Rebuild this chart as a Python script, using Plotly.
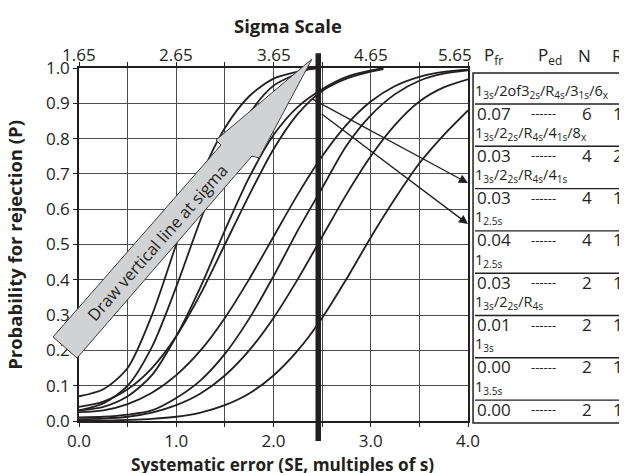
import plotly.graph_objects as go

# ---------------- data ----------------
# power curves (SE in multiples of s, probability of rejection)
se_fast = [0, 0.25, 0.5, 0.75, 1.0, 1.25, 1.5, 1.75, 2.0, 2.25, 2.31, 2.46]
p_6x = [0.07, 0.09, 0.15, 0.30, 0.50, 0.69, 0.83, 0.92, 0.97, 0.99, 0.995, 1.0]
p_8x = [0.03, 0.05, 0.10, 0.21, 0.38, 0.57, 0.74, 0.87, 0.95, 0.985, 0.993, 1.0]

se_mid = [0, 0.25, 0.5, 0.75, 1.0, 1.25, 1.5, 1.75, 2.0, 2.25, 2.5, 2.75, 3.0, 3.13]
p_41s = [0.03, 0.04, 0.07, 0.13, 0.24, 0.38, 0.54, 0.69, 0.81, 0.89, 0.94, 0.975, 0.993, 1.0]
p_25s_n4 = [0.04, 0.055, 0.09, 0.15, 0.24, 0.36, 0.50, 0.64, 0.77, 0.87, 0.935, 0.97, 0.99, 0.997]

se_full = [0, 0.25, 0.5, 0.75, 1.0, 1.25, 1.5, 1.75, 2.0, 2.25, 2.5, 2.75, 3.0, 3.25, 3.5, 3.75, 4.0]
p_25s_n2 = [0.025, 0.030, 0.048, 0.080, 0.130, 0.200, 0.292, 0.402, 0.522, 0.642, 0.750, 0.839, 0.905, 0.949, 0.975, 0.989, 0.995]
p_r4s = [0.010, 0.012, 0.018, 0.030, 0.065, 0.115, 0.19, 0.29, 0.41, 0.54, 0.66, 0.78, 0.866, 0.926, 0.964, 0.984, 0.993]
p_13s = [0.005, 0.007, 0.012, 0.024, 0.045, 0.078, 0.129, 0.200, 0.292, 0.402, 0.522, 0.642, 0.750, 0.839, 0.905, 0.945, 0.968]
p_135s = [0.001, 0.001, 0.003, 0.006, 0.012, 0.024, 0.045, 0.078, 0.129, 0.200, 0.292, 0.402, 0.520, 0.630, 0.730, 0.810, 0.880]

sigma_line = 4.11          # sigma at which the vertical line is drawn
sigma_offset = 1.65        # sigma = SE + 1.65
sigma_ticks = [1.65, 2.65, 3.65, 4.65, 5.65]
sigma_minor = [2.15, 3.15, 4.15, 5.15]
se_ticks = [0, 0.5, 1.0, 1.5, 2.0, 2.5, 3.0, 3.5, 4.0]
se_ticktext = ["0.0", "", "1.0", "", "2.0", "", "3.0", "", "4.0"]

# table on the right
rules = [
    "1<sub>3s</sub>/2of3<sub>2s</sub>/R<sub>4s</sub>/3<sub>1s</sub>/6<sub>x</sub>",
    "1<sub>3s</sub>/2<sub>2s</sub>/R<sub>4s</sub>/4<sub>1s</sub>/8<sub>x</sub>",
    "1<sub>3s</sub>/2<sub>2s</sub>/R<sub>4s</sub>/4<sub>1s</sub>",
    "1<sub>2.5s</sub>",
    "1<sub>2.5s</sub>",
    "1<sub>3s</sub>/2<sub>2s</sub>/R<sub>4s</sub>",
    "1<sub>3s</sub>",
    "1<sub>3.5s</sub>",
]
p_fr = ["0.07", "0.03", "0.03", "0.04", "0.03", "0.01", "0.00", "0.00"]
p_ed = ["------"] * 8
n_ctrl = ["6", "4", "4", "4", "2", "2", "2", "2"]
n_runs = ["1", "2", "1", "1", "1", "1", "1", "1"]

# pointer arrows (tail SE, tail P, head SE, head P)
pointers = [(2.38, 0.915, 4.0, 0.674), (2.48, 0.873, 4.0, 0.558)]

# ---------------- figure ----------------
INK = "#231f20"
FONT = "Open Sans"
fig = go.Figure()

for xs, ys in [(se_fast, p_6x), (se_fast, p_8x), (se_mid, p_41s), (se_mid, p_25s_n4),
               (se_full, p_25s_n2), (se_full, p_r4s), (se_full, p_13s), (se_full, p_135s)]:
    fig.add_trace(go.Scatter(x=xs, y=ys, mode="lines",
                             line=dict(color=INK, width=1.8, shape="spline", smoothing=0.8),
                             showlegend=False, hoverinfo="skip"))

# invisible trace to carry the sigma axis
fig.add_trace(go.Scatter(x=[sigma_ticks[0], sigma_ticks[-1]], y=[0, 0], xaxis="x2",
                         mode="markers", marker=dict(opacity=0), showlegend=False, hoverinfo="skip"))

grid = "#4d4d4d"
fig.update_layout(
    width=627, height=473,
    margin=dict(l=71, r=167, t=60, b=60),
    paper_bgcolor="white", plot_bgcolor="white",
    font=dict(family=FONT, size=17, color=INK),
    xaxis=dict(range=[0, 4], tickvals=se_ticks, ticktext=se_ticktext,
               ticks="outside", ticklen=4, tickcolor=INK,
               showgrid=True, gridcolor=grid, gridwidth=1,
               showline=True, linecolor=INK, linewidth=2, mirror=True,
               zeroline=False, fixedrange=True),
    xaxis2=dict(range=[sigma_ticks[0], sigma_ticks[-1]], overlaying="x", side="top", anchor="y",
                tickvals=sigma_ticks + sigma_minor, showticklabels=False,
                ticks="outside", ticklen=5, tickcolor=INK,
                showgrid=False, showline=False, zeroline=False, fixedrange=True),
    yaxis=dict(range=[0, 1], dtick=0.1, tickformat=".1f",
               ticks="outside", ticklen=4, tickcolor=INK,
               showgrid=True, gridcolor=grid, gridwidth=1,
               showline=True, linecolor=INK, linewidth=1.5, mirror=True,
               zeroline=False, fixedrange=True),
)

shapes = []
annotations = []

# sigma tick labels (the last one is pulled left of its tick, clear of the table header)
for k, s in enumerate(sigma_ticks):
    last = k == len(sigma_ticks) - 1
    annotations.append(dict(text=f"{s:.2f}", x=s, y=1.037, xref="x2", yref="paper",
                            showarrow=False, xanchor="right" if last else "center",
                            xshift=6 if last else 0, yanchor="middle",
                            font=dict(size=17, color=INK, family=FONT)))

# grey instruction arrow (paper coordinates)
arrow_pts = [(-0.0668, 0.2380), (0.3650, 0.7819), (0.3522, 0.7960), (0.5990, 1.0255),
             (0.4627, 0.7450), (0.4447, 0.7507), (-0.0051, 0.1785)]
path = "M " + " L ".join(f"{x},{y}" for x, y in arrow_pts) + " Z"
shapes.append(dict(type="path", path=path, xref="paper", yref="paper",
                   fillcolor="#d1d2d4", line=dict(color="#3a3a3a", width=1), layer="above"))
annotations.append(dict(text="Draw vertical line at sigma", x=0.200, y=0.507,
                        xref="paper", yref="paper", showarrow=False, textangle=-48.5,
                        xanchor="center", yanchor="middle",
                        font=dict(size=16.5, color=INK, family=FONT)))

# thick vertical line at sigma
shapes.append(dict(type="line", xref="x", yref="paper",
                   x0=sigma_line - sigma_offset, x1=sigma_line - sigma_offset,
                   y0=-0.057, y1=1.042, line=dict(color=INK, width=5.5), layer="above"))

# pointer arrows
for tx, ty, hx, hy in pointers:
    annotations.append(dict(x=hx, y=hy, ax=tx, ay=ty, xref="x", yref="y", axref="x", ayref="y",
                            text="", showarrow=True, arrowhead=2, arrowsize=1.4,
                            arrowwidth=1.3, arrowcolor=INK))

# table box
shapes.append(dict(type="rect", xref="paper", yref="paper", x0=1.013, x1=1.45, y0=-0.006, y1=0.986,
                   line=dict(color=INK, width=1.5), fillcolor="rgba(0,0,0,0)"))

# header
for txt, xc in [("P<sub>fr</sub>", 1.066), ("P<sub>ed</sub>", 1.210), ("N", 1.300), ("R", 1.384)]:
    annotations.append(dict(text=txt, x=xc, y=1.035, xref="paper", yref="paper",
                            showarrow=False, xanchor="center", yanchor="middle",
                            font=dict(size=17, color=INK, family=FONT)))

row_h = 42.3 / 353.0
for i in range(len(rules)):
    y_rule = (421 - 91) / 353.0 - i * row_h
    y_sep = (421 - 104) / 353.0 - i * row_h
    y_val = (421 - 113) / 353.0 - i * row_h
    annotations.append(dict(text=rules[i], x=1.013, y=y_rule, xref="paper", yref="paper",
                            showarrow=False, xanchor="left", yanchor="middle",
                            font=dict(size=14.5, color=INK, family=FONT)))
    shapes.append(dict(type="line", xref="paper", yref="paper", x0=1.018, x1=1.45,
                       y0=y_sep, y1=y_sep, line=dict(color=INK, width=1.4)))
    annotations.append(dict(text=p_fr[i], x=1.018, y=y_val, xref="paper", yref="paper",
                            showarrow=False, xanchor="left", yanchor="middle",
                            font=dict(size=17, color=INK, family=FONT)))
    annotations.append(dict(text=p_ed[i], x=1.157, y=y_val, xref="paper", yref="paper",
                            showarrow=False, xanchor="left", yanchor="middle",
                            font=dict(size=13, color=INK, family=FONT)))
    annotations.append(dict(text=n_ctrl[i], x=1.305, y=y_val, xref="paper", yref="paper",
                            showarrow=False, xanchor="center", yanchor="middle",
                            font=dict(size=17, color=INK, family=FONT)))
    annotations.append(dict(text=n_runs[i], x=1.385, y=y_val, xref="paper", yref="paper",
                            showarrow=False, xanchor="center", yanchor="middle",
                            font=dict(size=17, color=INK, family=FONT)))

# axis titles
annotations.append(dict(text="<b>Sigma Scale</b>", x=0.537, y=1.12, xref="paper", yref="paper",
                        showarrow=False, xanchor="center", yanchor="middle",
                        font=dict(size=18.5, color=INK, family=FONT)))
annotations.append(dict(text="<b>Systematic error (SE, multiples of s)</b>", x=0.524, y=-0.122,
                        xref="paper", yref="paper", showarrow=False,
                        xanchor="center", yanchor="middle",
                        font=dict(size=17.2, color=INK, family=FONT)))
annotations.append(dict(text="<b>Probability for rejection (P)</b>", x=-0.1645, y=0.499,
                        xref="paper", yref="paper", showarrow=False, textangle=-90,
                        xanchor="center", yanchor="middle",
                        font=dict(size=18.5, color=INK, family=FONT)))

fig.update_layout(shapes=shapes, annotations=annotations)
fig.write_html("out.html")
